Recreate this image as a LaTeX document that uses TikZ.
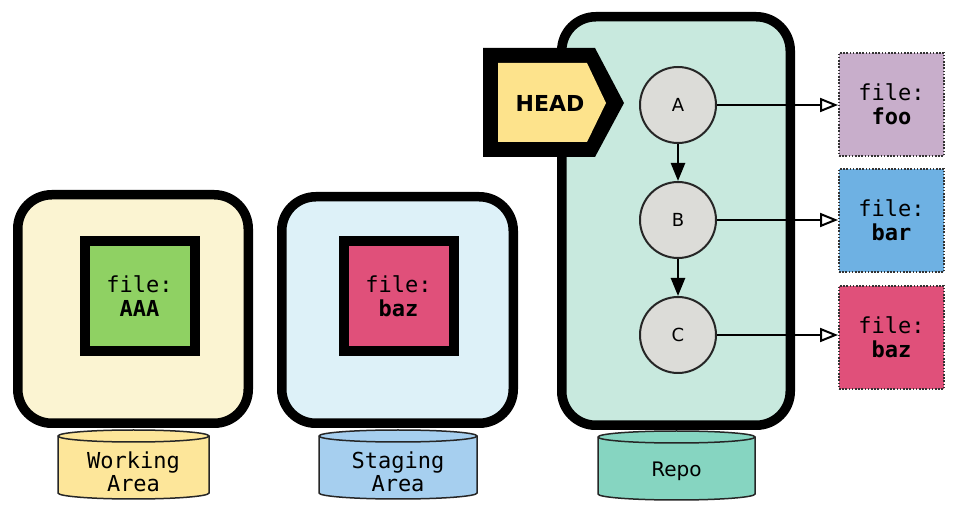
\documentclass[tikz,border=0pt]{standalone}
\usepackage{fontspec}
\setmainfont{DejaVu Sans}
\setsansfont{DejaVu Sans}
\setmonofont{DejaVu Sans Mono}
\usetikzlibrary{arrows.meta}
\definecolor{workfill}{HTML}{FBF4D2}
\definecolor{stagefill}{HTML}{DDF1F8}
\definecolor{repofill}{HTML}{C8E9DE}
\definecolor{filegreen}{HTML}{8FD163}
\definecolor{filered}{HTML}{E0507A}
\definecolor{filefoo}{HTML}{C8AECB}
\definecolor{filebar}{HTML}{6EB1E3}
\definecolor{headyellow}{HTML}{FDE38C}
\definecolor{commitgray}{HTML}{DCDCD8}
\definecolor{workcyl}{HTML}{FDE69A}
\definecolor{stagecyl}{HTML}{A6CFEF}
\definecolor{repocyl}{HTML}{86D5C1}
\newcommand\mycyl[5]{% x0, x1, ytop, ybot, colour
  \pgfmathsetmacro\myrx{(#2-#1)/2}
  \filldraw[fill=#5, draw=black!85, line width=1.5pt]
    (#1,#3) -- (#1,#4) arc[start angle=180,end angle=360,x radius=\myrx pt,y radius=6pt]
    -- (#2,#3) arc[start angle=0,end angle=180,x radius=\myrx pt,y radius=6pt] -- cycle;
  \draw[draw=black!85, line width=1.5pt]
    (#1,#3) arc[start angle=180,end angle=360,x radius=\myrx pt,y radius=6pt];
}
\tikzset{
  bigbox/.style={draw=black, line width=9.5pt, rounded corners=34pt},
  filesq/.style={draw=black, line width=10pt, minimum size=110pt, inner sep=0pt,
    align=center, font=\ttfamily\fontsize{22}{24}\selectfont},
  repofile/.style={draw=black!80, line width=2pt, dash pattern=on 1.6pt off 1.6pt,
    minimum width=105pt, minimum height=103pt, inner sep=0pt,
    align=center, font=\ttfamily\fontsize{22}{24}\selectfont},
  commit/.style={circle, draw=black!85, line width=2pt, fill=commitgray,
    minimum size=76pt, inner sep=0pt, font=\sffamily\fontsize{18}{20}\selectfont},
  parentarrow/.style={line width=2.5pt, -{Triangle[length=18pt,width=14pt]}},
  ptr/.style={line width=2pt, -{Triangle[open,length=18pt,width=14pt]}},
  cyllabel/.style={align=center, font=\ttfamily\fontsize{22}{23}\selectfont},
}
\begin{document}
\begin{tikzpicture}[x=1pt,y=-1pt]
\useasboundingbox (0,0) rectangle (962,510);
\fill[white] (0,0) rectangle (962,510);

% cylinders
\mycyl{58}{209}{436}{493}{workcyl}
\mycyl{319}{477}{436}{493}{stagecyl}
\mycyl{598}{755}{437}{494}{repocyl}
\node[cyllabel] (worklabel) at (133.5,472) {Working\\Area};
\node[cyllabel] (stagelabel) at (398,472) {Staging\\Area};
\node[font=\sffamily\fontsize{20}{22}\selectfont] (repolabel) at (676.5,471) {Repo};

% containers
\draw[bigbox, fill=workfill] (17.75,194.75) rectangle (248.25,423.25);
\draw[bigbox, fill=stagefill] (281.75,196.75) rectangle (513.25,423.25);
\draw[bigbox, fill=repofill] (561.75,16.75) rectangle (790.25,425.25);

% files in working / staging area
\node[filesq, fill=filegreen] (aaa) at (139.5,296.5) {file:\\\textbf{AAA}};
\node[filesq, fill=filered] (stbaz) at (398.5,296.5) {file:\\\textbf{baz}};

% HEAD
\fill[black] (483,48) -- (595,48) -- (624,103) -- (595,157) -- (483,157) -- cycle;
\fill[headyellow] (498,63) -- (587,63) -- (606,103) -- (587,142) -- (498,142) -- cycle;
\node[font=\sffamily\bfseries\fontsize{22}{24}\selectfont] (head) at (550,103) {HEAD};

% commits
\node[commit] (A) at (678,105) {A};
\node[commit] (B) at (678,220) {B};
\node[commit] (C) at (678,335) {C};
\draw[parentarrow] (A) -- (B);
\draw[parentarrow] (B) -- (C);

% repo files
\node[repofile, fill=filefoo] (foo) at (891.5,104.5) {file:\\\textbf{foo}};
\node[repofile, fill=filebar] (bar) at (891.5,220.5) {file:\\\textbf{bar}};
\node[repofile, fill=filered] (baz) at (891.5,337.5) {file:\\\textbf{baz}};
\draw[ptr] (A.east) -- (A.east -| foo.west);
\draw[ptr] (B.east) -- (B.east -| bar.west);
\draw[ptr] (C.east) -- (C.east -| baz.west);
\end{tikzpicture}
\end{document}
